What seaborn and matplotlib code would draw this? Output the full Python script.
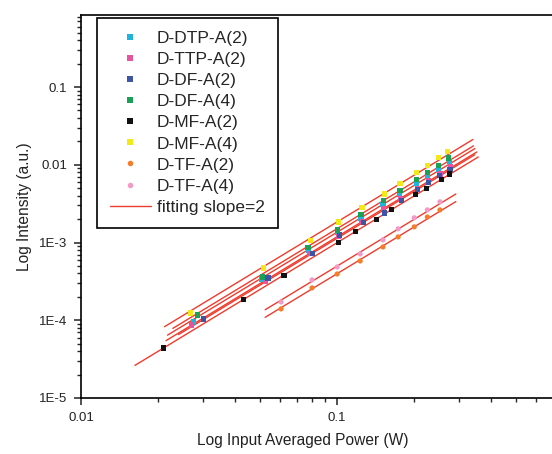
import numpy as np
import pandas as pd
import matplotlib
matplotlib.use('Agg')
import matplotlib.pyplot as plt
import matplotlib.ticker as mticker
from matplotlib.lines import Line2D
import seaborn as sns

# series names (legend order)
names = ['D-DTP-A(2)', 'D-TTP-A(2)', 'D-DF-A(2)', 'D-DF-A(4)',
         'D-MF-A(2)', 'D-MF-A(4)', 'D-TF-A(2)', 'D-TF-A(4)']

# input power (W) / intensity (a.u.)
dtp2_p = [0.0274, 0.0505, 0.0775, 0.100, 0.124, 0.151, 0.175, 0.204, 0.225, 0.249, 0.274]
dtp2_i = [9.5e-5, 3.4e-4, 8.0e-4, 1.33e-3, 2.05e-3, 3.05e-3, 4.15e-3, 5.8e-3, 7.1e-3, 8.8e-3, 1.09e-2]

ttp2_p = [0.0271, 0.0524, 0.078, 0.101, 0.125, 0.152, 0.177, 0.206, 0.228, 0.252, 0.278]
ttp2_i = [8.7e-5, 3.2e-4, 7.2e-4, 1.2e-3, 1.85e-3, 2.75e-3, 3.7e-3, 5.0e-3, 6.2e-3, 7.6e-3, 9.4e-3]

df2_p = [0.030, 0.0537, 0.080, 0.1025, 0.127, 0.153, 0.178, 0.206, 0.228, 0.251, 0.276]
df2_i = [1.04e-4, 3.5e-4, 7.2e-4, 1.25e-3, 1.8e-3, 2.4e-3, 3.5e-3, 4.8e-3, 5.9e-3, 7.2e-3, 8.7e-3]

df4_p = [0.0286, 0.051, 0.077, 0.100, 0.124, 0.152, 0.176, 0.204, 0.225, 0.248, 0.272]
df4_i = [1.17e-4, 3.6e-4, 8.6e-4, 1.45e-3, 2.3e-3, 3.5e-3, 4.7e-3, 6.4e-3, 8.0e-3, 9.9e-3, 1.22e-2]

mf2_p = [0.021, 0.043, 0.062, 0.101, 0.118, 0.142, 0.163, 0.203, 0.223, 0.255, 0.275]
mf2_i = [4.4e-5, 1.86e-4, 3.8e-4, 1.0e-3, 1.38e-3, 2.0e-3, 2.65e-3, 4.1e-3, 5.0e-3, 6.5e-3, 7.6e-3]

mf4_p = [0.0267, 0.0514, 0.0786, 0.101, 0.125, 0.153, 0.176, 0.204, 0.225, 0.248, 0.269]
mf4_i = [1.24e-4, 4.71e-4, 1.05e-3, 1.84e-3, 2.79e-3, 4.22e-3, 5.68e-3, 7.87e-3, 9.68e-3, 1.23e-2, 1.47e-2]

tf_p = [0.0604, 0.0798, 0.100, 0.123, 0.151, 0.173, 0.200, 0.225, 0.252]
tf2_i = [1.40e-4, 2.61e-4, 3.94e-4, 5.79e-4, 8.77e-4, 1.18e-3, 1.59e-3, 2.13e-3, 2.63e-3]
tf4_i = [1.72e-4, 3.30e-4, 4.85e-4, 7.13e-4, 1.08e-3, 1.50e-3, 2.08e-3, 2.63e-3, 3.34e-3]

colors = ['#1fb4dc', '#e4559e', '#3d55a5', '#1aa158', '#111111', '#f3e81a', '#f47d2c', '#f29ac8']
markers = ['s', 's', 's', 's', 's', 's', 'o', 'o']
line_color = '#ef3b2c'

series = [(dtp2_p, dtp2_i), (ttp2_p, ttp2_i), (df2_p, df2_i), (df4_p, df4_i),
          (mf2_p, mf2_i), (mf4_p, mf4_i), (tf_p, tf2_i), (tf_p, tf4_i)]

frames = []
for name, (p, i) in zip(names, series):
    frames.append(pd.DataFrame({'power': p, 'intensity': i, 'sample': name}))
df = pd.concat(frames, ignore_index=True)

sns.set_theme(style='ticks')
plt.rcParams['font.family'] = ['Liberation Sans', 'DejaVu Sans']

fig = plt.figure(figsize=(5.52, 4.54), dpi=100)
ax = fig.add_axes([81/552, 56/454, 471/552, 383/454])

# slope-2 fits in log-log space
for name, (p, i) in zip(names, series):
    lp, li = np.log10(p), np.log10(i)
    b = np.mean(li - 2 * lp)
    span = lp.max() - lp.min()
    xs = np.logspace(lp.min() - 0.1 * span, lp.max() + 0.1 * span, 2)
    ax.plot(xs, 10 ** b * xs ** 2, color=line_color, lw=1.0, zorder=2)

sns.scatterplot(data=df, x='power', y='intensity', hue='sample', style='sample',
                hue_order=names, style_order=names,
                palette=dict(zip(names, colors)), markers=dict(zip(names, markers)),
                s=14, edgecolor='none', linewidth=0, legend=False, ax=ax, zorder=3)

ax.set_xscale('log')
ax.set_yscale('log')
ax.set_xlim(0.01, 0.69)
ax.set_ylim(1e-5, 0.845)

ax.xaxis.set_major_locator(mticker.FixedLocator([0.01, 0.1]))
ax.xaxis.set_major_formatter(mticker.FixedFormatter(['0.01', '0.1']))
ax.xaxis.set_minor_locator(mticker.LogLocator(base=10, subs=np.arange(2, 10)))
ax.xaxis.set_minor_formatter(mticker.NullFormatter())
ax.yaxis.set_major_locator(mticker.FixedLocator([1e-5, 1e-4, 1e-3, 0.01, 0.1]))
ax.yaxis.set_major_formatter(mticker.FixedFormatter(['1E-5', '1E-4', '1E-3', '0.01', '0.1']))
ax.yaxis.set_minor_locator(mticker.LogLocator(base=10, subs=np.arange(2, 10)))
ax.yaxis.set_minor_formatter(mticker.NullFormatter())

ax.tick_params(which='major', direction='out', length=5, width=1.1, labelsize=9.5,
               colors='#222222', pad=5)
ax.tick_params(which='minor', direction='out', length=3, width=1.0)

for side in ['left', 'bottom', 'top']:
    ax.spines[side].set_linewidth(1.2)
    ax.spines[side].set_color('black')
ax.spines['right'].set_visible(False)

ax.set_xlabel('Log Input Averaged Power (W)', fontsize=11.2, color='#222222')
ax.set_ylabel('Log Intensity (a.u.)', fontsize=11.2, color='#222222', labelpad=5)
ax.xaxis.set_label_coords(0.471, -0.092)

handles = [Line2D([], [], ls='none', marker=m, color=c, markersize=4.0, markeredgewidth=0)
           for m, c in zip(markers, colors)]
handles.append(Line2D([], [], color=line_color, lw=1.0))
leg = ax.legend(handles, names + ['fitting slope=2'], loc='upper left',
                bbox_to_anchor=(0.034, 0.992), borderaxespad=0, fontsize=12.5,
                frameon=True, fancybox=False, framealpha=1, edgecolor='black',
                labelspacing=0.34, borderpad=0.75, handlelength=2.35, handletextpad=0.35)
leg.get_frame().set_linewidth(1.2)

fig.savefig('out.png', dpi=100)
